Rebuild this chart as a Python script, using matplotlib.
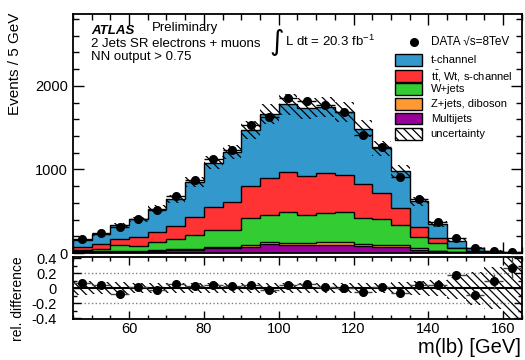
import numpy as np
import matplotlib
matplotlib.use("Agg")
import matplotlib.pyplot as plt
from matplotlib.patches import Rectangle
from matplotlib.ticker import MultipleLocator

plt.rcParams['font.family'] = ['Liberation Sans', 'DejaVu Sans']
plt.rcParams['mathtext.fontset'] = 'custom'
plt.rcParams['mathtext.rm'] = 'Liberation Sans'
plt.rcParams['mathtext.it'] = 'Liberation Sans:italic'
plt.rcParams['hatch.linewidth'] = 0.9

# m(lb) bins, 5 GeV wide
mass_edges = np.arange(45, 170, 5)

data = [171, 236, 308, 411, 519, 686, 874, 1126, 1237, 1533, 1629, 1860,
        1817, 1772, 1685, 1409, 1269, 914, 647, 367, 176, 56, 28, 16]
data_err = [13, 15, 18, 20, 23, 26, 30, 34, 35, 39, 40, 43,
            43, 42, 41, 38, 36, 30, 25, 19, 13, 7.5, 5.3, 4]

multijets = [8, 8, 10, 10, 24, 40, 36, 56, 56, 76, 110, 96,
             92, 100, 100, 82, 76, 72, 36, 20, 8, 4, 1, 0.5]
zjets = [12, 12, 14, 14, 10, 10, 12, 12, 14, 20, 18, 28,
         28, 38, 30, 28, 24, 24, 20, 10, 6, 4, 2, 1]
wjets = [20, 28, 68, 56, 94, 114, 164, 208, 208, 329, 330, 366,
         330, 347, 367, 310, 306, 240, 132, 86, 42, 12, 4, 1.5]
top_bkg = [28, 60, 80, 108, 124, 156, 220, 272, 331, 375, 439, 475,
           470, 468, 436, 410, 310, 200, 128, 60, 6, 6, 3, 2]
tchannel = [92, 119, 161, 218, 281, 328, 419, 535, 595, 674, 765, 815,
            810, 796, 752, 658, 537, 444, 303, 175, 88, 35.5, 15.7, 7.6]

# relative uncertainty of the prediction
rel_unc = [0.09, 0.08, 0.08, 0.07, 0.07, 0.07, 0.07, 0.07, 0.07, 0.07, 0.07, 0.07,
           0.07, 0.07, 0.07, 0.07, 0.07, 0.08, 0.09, 0.11, 0.15, 0.22, 0.28, 0.45]
ratio_err = [0.03, 0.03, 0.03, 0.03, 0.03, 0.03, 0.03, 0.03, 0.025, 0.025, 0.025, 0.025,
             0.025, 0.025, 0.025, 0.025, 0.03, 0.03, 0.04, 0.05, 0.06, 0.07, 0.1, 0.15]

labels = ['t-channel', r'$\mathrm{t\bar{t}}$, Wt, s-channel', 'W+jets',
          'Z+jets, diboson', 'Multijets']
colors = ['#3399cc', '#ff3333', '#33cc33', '#ff9933', '#990099']

# cumulative stack, bottom to top: multijets, Z, W, top, t-channel
comps = [multijets, zjets, wjets, top_bkg, tchannel]
cum = np.cumsum(np.array(comps, dtype=float), axis=0)
total = cum[-1]
centers = 0.5 * (mass_edges[1:] + mass_edges[:-1])
data = np.array(data, dtype=float)
unc = np.array(rel_unc)

fig = plt.figure(figsize=(5.25, 3.6), dpi=100)
ax = fig.add_axes([0.139, 0.297, 0.855, 0.664])
rax = fig.add_axes([0.139, 0.114, 0.855, 0.171])

# stack drawn ROOT-like: each cumulative histogram filled from zero
for i in range(len(comps) - 1, -1, -1):
    ax.stairs(cum[i], mass_edges, baseline=0, fill=True,
              facecolor=colors[4 - i], edgecolor='black', linewidth=1.0, zorder=2)

ax.bar(centers, 2 * total * unc, bottom=total * (1 - unc), width=5,
       fill=False, hatch='\\\\\\\\', edgecolor='black', linewidth=0, zorder=3)
ax.errorbar(centers, data, yerr=data_err, xerr=2.5, fmt='o', color='black',
            markersize=5.5, elinewidth=1, capsize=0, zorder=5)

ax.set_xlim(45, 165)
ax.set_ylim(0, 2860)
ax.yaxis.set_major_locator(MultipleLocator(1000))
ax.yaxis.set_minor_locator(MultipleLocator(200))
ax.xaxis.set_major_locator(MultipleLocator(20))
ax.xaxis.set_minor_locator(MultipleLocator(5))
ax.tick_params(which='both', direction='in', top=True, right=True, labelbottom=False,
               labelsize=10.5, width=1)
ax.tick_params(which='major', length=8)
ax.tick_params(which='minor', length=4)
for s in ax.spines.values():
    s.set_linewidth(1.3)

# ratio panel
ratio = data / total - 1
rax.bar(centers, 2 * unc, bottom=-unc, width=5, fill=False, hatch='\\\\\\\\',
        edgecolor='black', linewidth=0, zorder=2)
rax.axhline(0, color='black', linewidth=1.5, zorder=3)
for yv in (0.2, -0.2):
    rax.axhline(yv, color='gray', linestyle=':', linewidth=1, zorder=1)
rax.errorbar(centers, ratio, yerr=ratio_err, xerr=2.5, fmt='o', color='black',
             ecolor='#444444', markersize=5.5, elinewidth=1, capsize=0, zorder=5)
rax.set_xlim(45, 165)
rax.set_ylim(-0.41, 0.41)
rax.set_yticks([-0.4, -0.2, 0, 0.2, 0.4])
rax.set_yticklabels(['-0.4', '-0.2', '0', '0.2', '0.4'])
rax.yaxis.set_minor_locator(MultipleLocator(0.1))
rax.xaxis.set_major_locator(MultipleLocator(20))
rax.xaxis.set_minor_locator(MultipleLocator(5))
rax.tick_params(which='both', direction='in', top=True, right=True, labelsize=10.5, width=1)
rax.tick_params(axis='x', pad=2)
rax.tick_params(axis='y', pad=12)
rax.tick_params(which='major', length=6)
rax.tick_params(which='minor', length=3)
for s in rax.spines.values():
    s.set_linewidth(1.3)

fig.text(0.028, 0.965, 'Events / 5 GeV', rotation=90, ha='center', va='top', fontsize=11)
fig.text(0.035, 0.17, 'rel. difference', rotation=90, ha='center', va='center', fontsize=10)
fig.text(0.992, 0.035, 'm(lb) [GeV]', ha='right', va='center', fontsize=14.5)

# labels
ax.text(0.04, 0.93, 'ATLAS', transform=ax.transAxes, fontsize=9.5,
        fontweight='bold', fontstyle='italic', va='center')
ax.text(0.175, 0.94, 'Preliminary', transform=ax.transAxes, fontsize=9.5, va='center')
ax.text(0.04, 0.875, '2 Jets SR electrons + muons', transform=ax.transAxes,
        fontsize=9.5, va='center')
ax.text(0.04, 0.82, 'NN output > 0.75', transform=ax.transAxes, fontsize=9.5, va='center')
ax.text(0.438, 0.885, '\u222b', transform=ax.transAxes, fontsize=20, va='center',
        family=['DejaVu Sans'])
ax.text(0.472, 0.885, r'L dt = 20.3 fb$^{\mathregular{-1}}$', transform=ax.transAxes,
        fontsize=9.5, va='center')

# legend, built by hand to mimic ROOT layout
ax.plot([0.76], [0.885], 'o', color='black', markersize=5.5, transform=ax.transAxes,
        clip_on=False)
ax.text(0.797, 0.885, 'DATA \u221as=8TeV', transform=ax.transAxes, fontsize=8.5, va='center')
row_y = [0.808, 0.741, 0.686, 0.622, 0.563]
for yv, lab, col in zip(row_y, labels, colors):
    ax.add_patch(Rectangle((0.718, yv - 0.025), 0.06, 0.05, transform=ax.transAxes,
                           facecolor=col, edgecolor='black', linewidth=1, zorder=6))
    ax.text(0.797, yv, lab, transform=ax.transAxes, fontsize=8, va='center', zorder=6)
ax.add_patch(Rectangle((0.718, 0.498 - 0.025), 0.06, 0.05, transform=ax.transAxes,
                       fill=False, hatch='\\\\\\\\', edgecolor='black', linewidth=1, zorder=6))
ax.text(0.797, 0.498, 'uncertainty', transform=ax.transAxes, fontsize=8, va='center', zorder=6)

fig.savefig('out.png', dpi=100)
